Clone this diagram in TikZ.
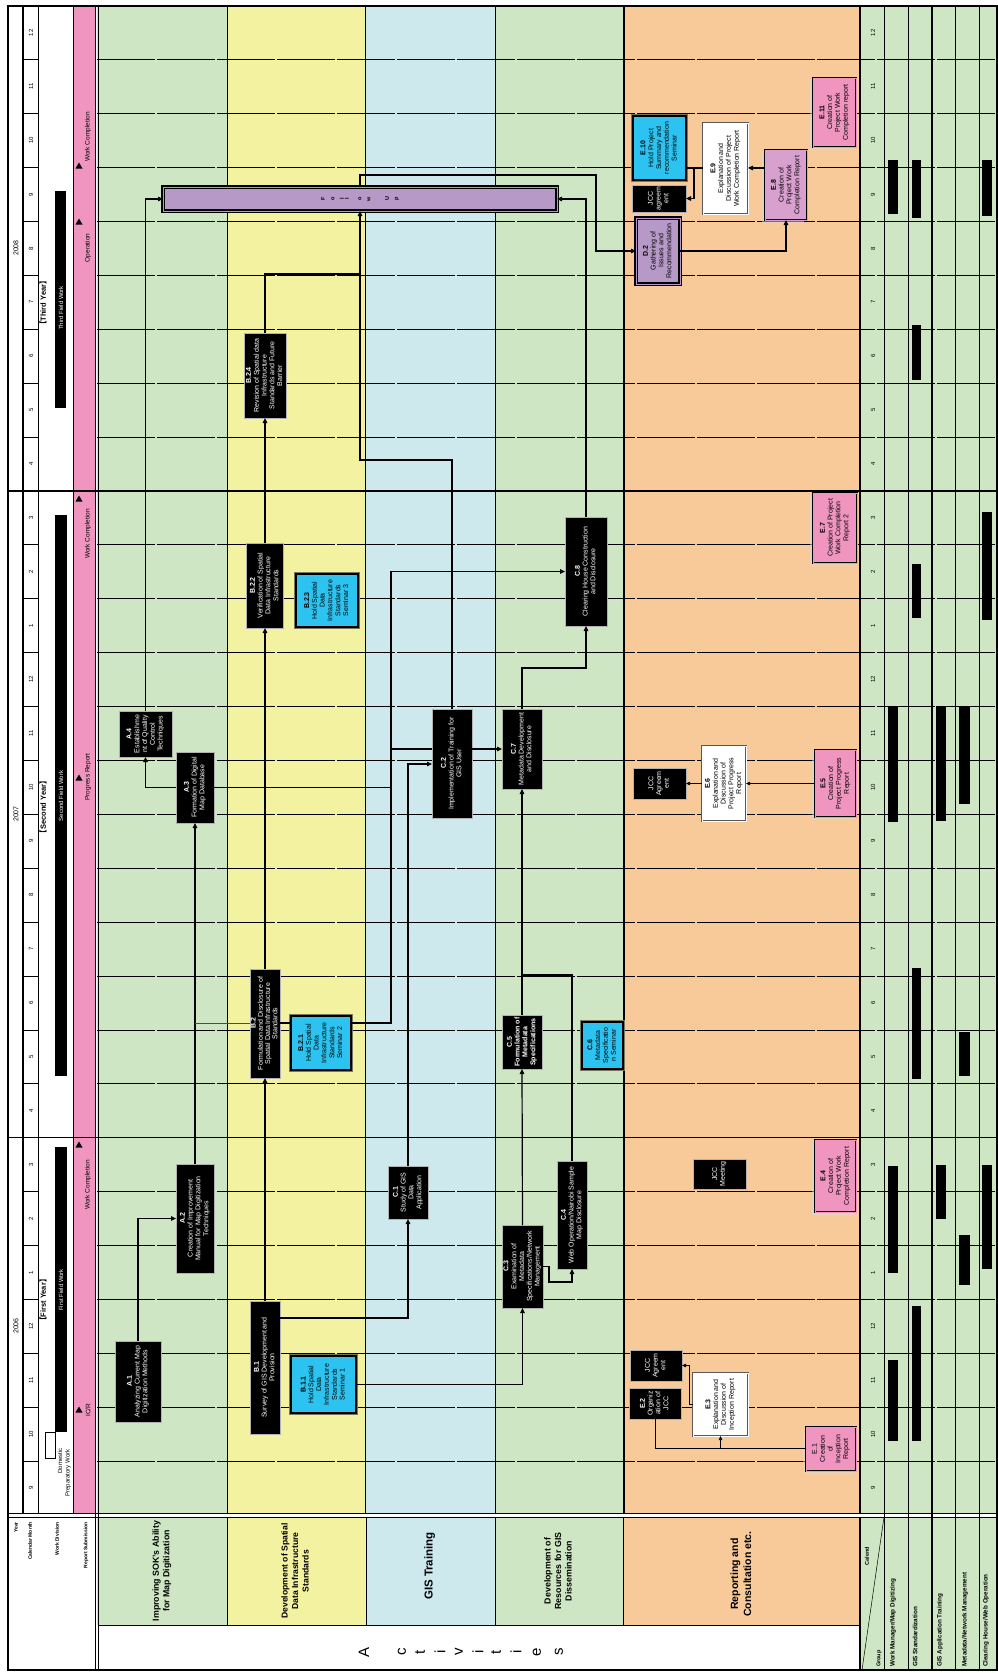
\documentclass[tikz,border=0pt]{standalone}
\usepackage{fontspec}
\usepackage{graphicx}
\setmainfont{Liberation Sans}
\newfontfamily\cjk{Noto Sans CJK SC}
\usetikzlibrary{arrows.meta,shadows,calc}
\definecolor{lgreen}{RGB}{207,230,196}
\definecolor{lyellow}{RGB}{243,242,160}
\definecolor{lblue}{RGB}{206,233,238}
\definecolor{lorange}{RGB}{248,202,153}
\definecolor{rpink}{RGB}{240,149,192}
\definecolor{semblue}{RGB}{45,195,240}
\definecolor{fupurple}{RGB}{183,153,200}
\definecolor{epurple}{RGB}{216,160,206}
\definecolor{olivegray}{RGB}{120,120,95}
\newcommand\boxfont{\fontsize{7}{7.8}\selectfont}
\newcommand\rt[1]{\rotatebox{90}{\begin{tabular}{@{}c@{}}#1\end{tabular}}}
\newcommand\lb[1]{{\cjk 【}#1{\cjk 】}}
\begin{document}
\begin{tikzpicture}[x=1pt,y=-1pt,
  sz/.style 2 args={minimum width=#1pt,minimum height=#2pt},
  bx/.style={inner sep=0pt,outer sep=0pt,font=\boxfont},
  blk/.style={bx,fill=black,text=white,draw=gray!60,line width=0.5pt},
  sem/.style={bx,fill=semblue,text=black,draw=black,line width=1.3pt,preaction={draw=olivegray,line width=3.3pt}},
  rep/.style={bx,fill=rpink,text=black,draw=black,line width=0.9pt,double=rpink,double distance=0.9pt,drop shadow={shadow xshift=-3pt,shadow yshift=-3pt,fill=gray!30}},
  repp/.style={rep,fill=epurple,double=epurple},
  pur/.style={bx,fill=fupurple,text=black,draw=black,line width=1.1pt,double=fupurple,double distance=0.9pt},
  wht/.style={bx,fill=white,text=black,draw=gray!70!black,line width=0.6pt,double=white,double distance=1pt},
  conn/.style={line width=1.2pt},
  arr/.style={conn,-{Triangle[length=5pt,width=4.5pt]}},
  tconn/.style={line width=0.6pt},
  tarr/.style={tconn,-{Triangle[length=4pt,width=3.5pt]}},
  mline/.style={line width=0.7pt,dash pattern=on 58pt off 2pt},
  yline/.style={line width=1.5pt},
  rlab/.style={rotate=90,inner sep=0pt}
]
\path[use as bounding box] (0,0) rectangle (998,1673);
\fill[white] (0,0) rectangle (998,1673);
% ---------- backgrounds ----------
\fill[lgreen] (97,6) rectangle (227,1513);
\fill[lyellow] (227,6) rectangle (365,1513);
\fill[lblue] (365,6) rectangle (495,1513);
\fill[lgreen] (495,6) rectangle (624,1513);
\fill[lorange] (624,6) rectangle (860,1513);
\fill[lgreen] (860,6) rectangle (997,1513);
\fill[rpink] (73,6) rectangle (95.5,1513);
\fill[lgreen] (97,1517) rectangle (227,1625);
\fill[lyellow] (227,1517) rectangle (366,1625);
\fill[lblue] (366,1517) rectangle (495,1625);
\fill[lgreen] (495,1517) rectangle (623,1625);
\fill[lorange] (623,1517) rectangle (860,1625);
\fill[lgreen] (860,1517) rectangle (997,1670);
% ---------- month grid ----------
\foreach \k in {1,...,27}{
  \pgfmathsetmacro\yy{1515-\k*53.9}
  \draw[mline] (23,\yy) -- (38,\yy);
  \draw[mline] (97,\yy) -- (997,\yy);
}
\draw[yline] (8,1137.7) -- (997,1137.7);
\draw[yline] (8,490.9) -- (997,490.9);
% ---------- vertical lines ----------
\draw[line width=1.2pt] (23,6) -- (23,1513);
\draw[line width=0.9pt] (38,6) -- (38,1513);
\draw[line width=0.6pt] (73,6) -- (73,1513);
\draw[line width=0.6pt] (95.5,6) -- (95.5,1670);
\draw[line width=0.6pt] (97.8,6) -- (97.8,1670);
\foreach \xx/\w in {227/0.8,365/0.8,495/0.8,624/1.3,860/1.3}
  \draw[line width=\w pt] (\xx,6) -- (\xx,1513);
\foreach \xx/\w in {884/1,908/0.8,932/1.3,955/0.8,979/1}
  \draw[line width=\w pt] (\xx,6) -- (\xx,1670);
% header lines
\draw[line width=0.6pt] (8,1513) -- (997,1513);
\draw[line width=0.6pt] (8,1517) -- (997,1517);
\draw[line width=0.8pt] (97.8,1625) -- (860,1625);
\foreach \xx in {227,366,495,623}
  \draw[line width=0.8pt] (\xx,1517) -- (\xx,1625);
\draw[line width=1.3pt] (860,1517) -- (860,1670);
\draw[line width=0.5pt] (884,1517) -- (862,1670);
\draw[line width=1.5pt] (8,6) rectangle (997,1670);
% ---------- staff bars ----------
\foreach \xa/\xb/\ya/\yb in {888/898/160/214, 888/898/707/822, 888/898/1166/1273, 888/898/1360/1441,
  912/921/160/218, 912/921/325/380, 912/921/564/618, 912/921/968/1079, 912/921/1306/1441,
  936/946/706/821, 936/946/1165/1219,
  959/970/706/804, 959/970/1032/1076, 959/970/1235/1285,
  982/992/160/216, 982/992/512/620, 982/992/1165/1269}
  \fill[black] (\xa,\ya) rectangle (\xb,\yb);
% ---------- month numbers / years ----------
\foreach \k in {0,...,27}{
  \pgfmathtruncatemacro\m{mod(\k+8,12)+1}
  \pgfmathsetmacro\yc{1515-(\k+0.5)*53.9}
  \node[rlab,font=\fontsize{6}{7}\selectfont] (ml\k) at (31,\yc) {\m};
  \node[rlab,font=\fontsize{6}{7}\selectfont] (mr\k) at (873,\yc) {\m};
}
\node[rlab,font=\fontsize{7}{8}\selectfont] (y2006) at (16,1326) {2006};
\node[rlab,font=\fontsize{7}{8}\selectfont] (y2007) at (16,814) {2007};
\node[rlab,font=\fontsize{7}{8}\selectfont] (y2008) at (16,248) {2008};
% ---------- work division ----------
\fill[black] (55,1147) rectangle (67,1432);
\fill[black] (55,515) rectangle (67,1076);
\fill[black] (55,191) rectangle (66,408);
\draw[line width=0.6pt,fill=white] (45,1432) rectangle (55,1458);
\node[rlab,font=\bfseries\fontsize{7.5}{8}\selectfont] (wy1) at (43,1300) {\lb{First Year}};
\node[rlab,font=\bfseries\fontsize{7.5}{8}\selectfont] (wy2) at (43,807) {\lb{Second Year}};
\node[rlab,font=\bfseries\fontsize{7.5}{8}\selectfont] (wy3) at (43,303) {\lb{Third Year}};
\node[rlab,text=white,font=\fontsize{6}{7}\selectfont] (wf1) at (61,1290) {First Field Work};
\node[rlab,text=white,font=\fontsize{6}{7}\selectfont] (wf2) at (61,796) {Second Field Work};
\node[rlab,text=white,font=\fontsize{6}{7}\selectfont] (wf3) at (61,308) {Third Field Work};
\node[rlab,font=\fontsize{6}{7}\selectfont] (wd1) at (60,1461) {Domestic};
\node[rlab,font=\fontsize{6}{7}\selectfont] (wd2) at (68,1473) {Preparatory Work};
% ---------- report submission ----------
\foreach \yy in {1410,1145,778,499,222,166}
  \fill (79,\yy-3.5) -- (75.5,\yy+2.5) -- (82.5,\yy+2.5) -- cycle;
\node[rlab,font=\fontsize{6.5}{7}\selectfont] (r1) at (88,1410) {IC/R};
\node[rlab,font=\fontsize{6.5}{7}\selectfont] (r2) at (88,1185) {Work Completion};
\node[rlab,font=\fontsize{6.5}{7}\selectfont] (r3) at (88,777) {Progress Report};
\node[rlab,font=\fontsize{6.5}{7}\selectfont] (r4) at (88,534) {Work Completion};
\node[rlab,font=\fontsize{6.5}{7}\selectfont] (r5) at (88,248) {Operation};
\node[rlab,font=\fontsize{6.5}{7}\selectfont] (r6) at (88,137) {Work Completion};
% ---------- header ----------
\foreach \xx/\t [count=\i] in {16/Year,30/Calendar Month,57/Work Division,86/Report Submission}
  \node[rlab,anchor=east,font=\bfseries\fontsize{5}{6}\selectfont] (hl\i) at (\xx,1522) {\t};
\node[bx,font=\bfseries\fontsize{8.8}{10.5}\selectfont] (hA) at (162,1571) {\rt{Improving SOK's Ability\\for Map Digitization}};
\node[bx,font=\bfseries\fontsize{8.6}{10.5}\selectfont] (hB) at (296,1571) {\rt{Development of Spatial\\Data Infrastructure\\Standards}};
\node[bx,font=\bfseries\fontsize{11.5}{13}\selectfont] (hC) at (430,1566) {\rt{GIS Training}};
\node[bx,font=\bfseries\fontsize{8.8}{10.5}\selectfont] (hD) at (559,1571) {\rt{Development of\\Resources for GIS\\Dissemination}};
\node[bx,font=\bfseries\fontsize{10.5}{13}\selectfont] (hE) at (742,1574) {\rt{Reporting and\\Consultation etc.}};
\foreach \xx/\ch [count=\i] in {364/A,402/c,420/t,440/i,459/v,478/i,496/t,516/i,537/e,559/s}
  \node[rlab,font=\fontsize{15}{16}\selectfont] (act\i) at (\xx,1652) {\ch};
\node[rlab,anchor=east,font=\bfseries\fontsize{5.5}{6}\selectfont] (hcal) at (867,1547) {Calend};
\node[rlab,anchor=west,font=\bfseries\fontsize{5.5}{6}\selectfont] (hgrp) at (879,1667) {Group};
\foreach \xx/\t [count=\i] in {893/{Work Manager/Map Digitizing},915/{GIS Standardization},940/{GIS Application Training},965/{Metadata/Network Management},986/{Clearing House/Web Operation}}
  \node[rlab,anchor=west,font=\bfseries\fontsize{6.3}{7}\selectfont] (hg\i) at (\xx,1667) {\t};
% ---------- activity nodes ----------
\node[blk,sz={46}{81}] (A1) at (138,1381.5) {\rt{\textbf{A.1}\\Analyzing Current Map\\Digitization Methods}};
\node[blk,sz={38}{109}] (A2) at (195,1218.5) {\rt{\textbf{A.2}\\Creation of Improvement\\Manual for Map Digitization\\Techniques}};
\node[blk,sz={38}{71}] (A3) at (195,787.5) {\rt{\textbf{A.3}\\Formation of Digital\\Map Database}};
\node[blk,sz={53}{46}] (A4) at (145.5,734) {\rt{\textbf{A.4}\\Establishme\\nt of Quality\\Control\\Techniques}};
\node[blk,sz={30}{133}] (B1) at (265,1367.5) {\rt{\textbf{B.1}\\Survey of GIS Development and\\Provision}};
\node[sem,sz={65}{57}] (B11) at (323.5,1384.5) {\rt{\textbf{B.1.1}\\Hold Spatial\\Data\\Infrastructure\\Standards\\Seminar 1}};
\node[blk,sz={30}{109},font=\fontsize{7}{7.2}\selectfont] (B2) at (265,1023.5) {\rt{\textbf{B.2}\\Formulation and Disclosure of\\Spatial Data Infrastructure\\Standards}};
\node[sem,sz={60}{54}] (B21) at (321,1043) {\rt{\textbf{B.2.1}\\Hold Spatial\\Data\\Infrastructure\\Standards\\Seminar 2}};
\node[blk,sz={37}{85}] (B22) at (265,585.5) {\rt{\textbf{B.2.2}\\Verification of Spatial\\Data Infrastructure\\Standards}};
\node[sem,sz={62}{53}] (B23) at (327,600.5) {\rt{\textbf{B.2.3}\\Hold Spatial\\Data\\Infrastructure\\Standards\\Seminar 3}};
\node[blk,sz={42}{85}] (B24) at (265,375.5) {\rt{\textbf{B.2.4}\\Revision of Spatial data\\Infrastructure\\Standards and Future\\Barrier}};
\node[blk,sz={40}{53}] (C1) at (408,1192.5) {\rt{\textbf{C.1}\\Study of GIS\\Data\\Application}};
\node[blk,sz={40}{109}] (C2) at (452,763.5) {\rt{\textbf{C.2}\\Implementation of Training for\\GIS User}};
\node[blk,sz={41}{83}] (C3) at (522.5,1266.5) {\rt{\textbf{C.3}\\Examination of\\Metadata\\Specifications/Network\\Management}};
\node[blk,sz={30}{108}] (C4) at (572,1215) {\rt{\textbf{C.4}\\Web Operation/Nairobi Sample\\Map Disclosure}};
\node[blk,sz={40}{54},font=\bfseries\fontsize{7}{7.8}\selectfont] (C5) at (522,1042) {\rt{C.5\\Formulation of\\Metadata\\Specifications}};
\node[sem,sz={41}{47}] (C6) at (602.5,1045.5) {\rt{\textbf{C.6}\\Metadata\\Specificatio\\n Seminar}};
\node[blk,sz={40}{80}] (C7) at (522,749) {\rt{\textbf{C.7}\\Metadata Development\\and Disclosure}};
\node[blk,sz={42}{109}] (C8) at (586,571.5) {\rt{\textbf{C.8}\\Clearing House Construction\\and Disclosure}};
\node[pur,sz={394}{24}] (FU) at (360,199) {};
\foreach \xx/\ch [count=\i] in {323/F,333/o,342/l,347/l,360/o,369/w,387/U,397/p}
  \node[rlab,font=\bfseries\fontsize{5.5}{6}\selectfont] (fu\i) at (\xx,199) {\ch};
\node[pur,sz={44}{66}] (D2) at (658,251) {\rt{\textbf{D.2}\\Gathering of\\Issues and\\Recommendation}};
\node[rep,sz={50}{44}] (E1) at (831,1449) {\rt{E.1\\Creation\\of\\Inception\\Report}};
\node[blk,sz={52}{31}] (E2) at (655,1403.5) {\rt{\textbf{E.2}\\Organiz\\ation of\\JCC}};
\node[blk,sz={52}{31}] (J1) at (656,1365.5) {\rt{JCC\\Agreem\\ent}};
\node[wht,sz={55}{63}] (E3) at (720.5,1404.5) {\rt{\textbf{E.3}\\Explanation and\\Discussion of\\Inception Report}};
\node[blk,sz={53}{30}] (JM) at (719.5,1174) {\rt{JCC\\Meeting}};
\node[rep,sz={41}{72}] (E4) at (835.5,1176) {\rt{\textbf{E.4}\\Creation of\\Project Work\\Completion Report}};
\node[rep,sz={41}{67}] (E5) at (835.5,783.5) {\rt{\textbf{E.5}\\Creation of\\Project Progress\\Report}};
\node[wht,sz={44}{75}] (E6) at (724,783.5) {\rt{\textbf{E.6}\\Explanation and\\Discussion of\\Project Progress\\Report}};
\node[blk,sz={53}{31}] (J2) at (659.5,783.5) {\rt{JCC\\Agreem\\ent}};
\node[rep,sz={44}{70}] (E7) at (835,528) {\rt{\textbf{E.7}\\Creation of Project\\Work Completion\\Report 2}};
\node[repp,sz={42}{70}] (E8) at (786,185) {\rt{\textbf{E.8}\\Creation of\\Project Work\\Completion Report}};
\node[wht,sz={45}{91}] (E9) at (725.5,168.5) {\rt{\textbf{E.9}\\Explanation and\\Discussion of Project\\Work Completion Report}};
\node[sem,sz={53}{64}] (E10) at (659.5,148) {\rt{\textbf{E.10}\\Hold Project\\Summary and\\recommendation\\Seminar}};
\node[blk,sz={54}{27}] (J3) at (659,198.5) {\rt{JCC\\agreem\\ent}};
\node[rep,sz={43}{69}] (E11) at (834.5,112.5) {\rt{\textbf{E.11}\\Creation of\\Project Work\\Completion report}};
% ---------- junction coordinates ----------
\coordinate (b1out) at (280,1318);
\coordinate (c2in) at (432,764);
\coordinate (b2out) at (280,1023);
\coordinate (b21in) at (291,1023);
\coordinate (b2left) at (250,1023);
\coordinate (a23x) at (195,1023);
\coordinate (b21out) at (351,1023);
\coordinate (busc8) at (391,571.5);
\coordinate (a3bus) at (391,787.5);
\coordinate (bus749) at (391,749);
\coordinate (c2w749) at (432,749);
\coordinate (c2e749) at (472,749);
\coordinate (fu460) at (360,460);
\coordinate (fu274) at (360,274);
\coordinate (c3c4) at (549,1282);
\coordinate (c4j) at (522,975);
\coordinate (c7c8) at (586,668);
\coordinate (fu175) at (596,175);
\coordinate (e8w) at (765,168);
\coordinate (e9e) at (748,168);
\coordinate (e9w) at (703,168);
\coordinate (e9j) at (694,168);
\coordinate (e10e) at (686,168);
\coordinate (e1w) at (806,1448);
\coordinate (e3j) at (720.5,1448);
\coordinate (e3jc) at (689,1365.5);
% ---------- connectors ----------
\draw[arr] (A1.north) |- (A2.west);
\draw[arr] (A2.north) -- (A3.south);
\draw[arr] (A3.west) -| (A4.south);
\draw[arr] (A4.north) |- (FU.west);
\draw[conn] (A3.east) -- (a3bus);
\draw[arr] (B1.north) -- (B2.south);
\draw[arr] (b1out) -| (C1.south);
\draw[arr] (B11.east) -| (C3.south);
\draw[arr] (C1.north) |- (c2in);
\draw[conn] (b2out) -- (b21in);
\draw[tconn,gray!60!black] (b2left) -- (a23x);
\draw[arr] (b21out) -| (busc8) -- (C8.west);
\draw[conn] (bus749) -- (c2w749);
\draw[arr] (c2e749) -- (C7.west);
\draw[arr] (C2.north) |- (fu460) -- (FU.south);
\draw[conn] (B24.north) |- (fu274);
\draw[arr] (B2.north) -- (B22.south);
\draw[arr] (B22.north) -- (B24.south);
\draw[arr] (C3.north) -- (C5.south);
\draw[arr] (C5.north) -- (C7.south);
\draw[arr] (C3.east) -| (c3c4) -| (C4.south);
\draw[conn] (C4.north) |- (c4j);
\draw[arr] (C7.north) |- (c7c8) -- (C8.south);
\draw[arr] (C8.north) |- (FU.east);
\draw[arr] (FU.north) |- (fu175) |- (D2.west);
\draw[arr] (D2.east) -| (E8.south);
\draw[arr] (e8w) -- (e9e);
\draw[arr] (e9w) -- (e9j) |- (J3.east);
\draw[conn] (e9j) -- (e10e);
\draw[tarr] (E5.west) -- (E6.east);
\draw[tarr] (E6.west) -- (J2.east);
\draw[tarr] (e1w) -| (E3.south);
\draw[tconn] (E2.south) |- (e3j);
\draw[tarr] (E3.west) -| (e3jc) -- (J1.east);
\end{tikzpicture}
\end{document}
